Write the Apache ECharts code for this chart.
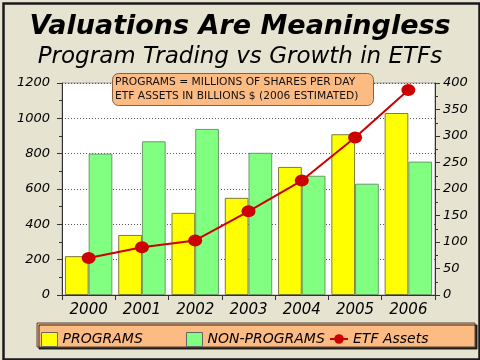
<!DOCTYPE html>
<html><head><meta charset="utf-8">
<script src="https://cdn.jsdelivr.net/npm/echarts@6/dist/echarts.min.js"></script>
<style>html,body{margin:0;padding:0;background:#E6E3D1;}#c{width:480px;height:360px;}</style>
</head><body><div id="c"></div>
<script>
const categories = ['2000','2001','2002','2003','2004','2005','2006'];
const programs = [220, 340, 465, 550, 725, 910, 1030];
const nonPrograms = [800, 870, 940, 805, 675, 630, 755];
const etfAssets = [70, 90, 103, 158, 216, 297, 387];
const leftTicks = {min:0, max:1200, interval:200};
const rightTicks = {min:0, max:400, interval:50};

const FONT = '"DejaVu Sans", Verdana, sans-serif';
const chart = echarts.init(document.getElementById('c'), null, {renderer:'canvas'});
chart.setOption({
  backgroundColor: '#E6E3D1',
  animation: false,
  textStyle: {fontFamily: FONT},
  title: [
    {text: 'Valuations Are Meaningless', left: 'center', top: 8,
     textStyle: {fontFamily: FONT, fontSize: 27, fontWeight: 'bold', fontStyle: 'italic', color: '#000'}},
    {text: 'Program Trading vs Growth in ETFs', left: 'center', top: 41,
     textStyle: {fontFamily: FONT, fontSize: 23, fontWeight: 'normal', fontStyle: 'italic', color: '#000'}}
  ],
  grid: {left: 62, right: 45, top: 83, bottom: 65, show: true, backgroundColor: '#fff', borderColor: '#999', borderWidth: 1},
  xAxis: {type: 'category', data: categories,
    axisLine: {lineStyle: {color: '#333'}},
    axisTick: {show: true, length: 5, lineStyle: {color: '#333'}},
    axisLabel: {fontFamily: FONT, fontSize: 15, fontStyle: 'italic', color: '#000', margin: 8}},
  yAxis: [
    {type: 'value', min: leftTicks.min, max: leftTicks.max, interval: leftTicks.interval,
     axisLine: {show: true, lineStyle: {color: '#333'}},
     axisTick: {show: true, length: 5, lineStyle: {color: '#333'}},
     minorTick: {show: true, splitNumber: 2, length: 3, lineStyle: {color: '#333'}},
     splitLine: {show: true, lineStyle: {color: '#555', type: [1, 2]}},
     axisLabel: {fontFamily: FONT, fontSize: 13, fontStyle: 'italic', color: '#000', margin: 12,
                 formatter: v => String(v)}},
    {type: 'value', min: rightTicks.min, max: rightTicks.max, interval: rightTicks.interval, position: 'right',
     axisLine: {show: true, lineStyle: {color: '#333'}},
     axisTick: {show: true, length: 5, lineStyle: {color: '#333'}},
     minorTick: {show: true, splitNumber: 2, length: 3, lineStyle: {color: '#333'}},
     splitLine: {show: false},
     axisLabel: {fontFamily: FONT, fontSize: 13, fontStyle: 'italic', color: '#000', margin: 8}}
  ],
  legend: [
    {data: [{name: 'PROGRAMS', icon: 'rect'}], left: 36, top: 327, itemWidth: 16, itemHeight: 14,
     itemStyle: {borderColor: '#666', borderWidth: 1},
     textStyle: {fontFamily: FONT, fontSize: 14, fontStyle: 'italic', color: '#000'}},
    {data: [{name: 'NON-PROGRAMS', icon: 'rect'}], left: 181, top: 327, itemWidth: 16, itemHeight: 14,
     itemStyle: {borderColor: '#666', borderWidth: 1},
     textStyle: {fontFamily: FONT, fontSize: 14, fontStyle: 'italic', color: '#000'}},
    {data: ['ETF Assets'], left: 324, top: 327, itemWidth: 18, itemHeight: 12,
     textStyle: {fontFamily: FONT, fontSize: 14, fontStyle: 'italic', color: '#000'}}
  ],
  series: [
    {name: 'PROGRAMS', type: 'bar', data: programs, yAxisIndex: 0, barGap: '0%', barCategoryGap: '11%',
     itemStyle: {color: '#FFFF00', borderColor: '#7a7a40', borderWidth: 1}},
    {name: 'NON-PROGRAMS', type: 'bar', data: nonPrograms, yAxisIndex: 0,
     itemStyle: {color: '#80FF80', borderColor: '#6a9a6a', borderWidth: 1}},
    {name: 'ETF Assets', type: 'line', data: etfAssets, yAxisIndex: 1, symbol: 'circle', symbolSize: [14, 12],
     lineStyle: {color: '#CC0000', width: 2}, itemStyle: {color: '#CC0000'}, z: 5}
  ],
  graphic: [
    {type: 'rect', left: 1, top: 1, shape: {width: 476, height: 356}, z: 100,
     style: {fill: 'none', stroke: '#1a1a1a', lineWidth: 2.5}},
    {type: 'rect', x: 37, y: 323, shape: {width: 438, height: 24}, z: -1,
     style: {fill: '#FDBB84', stroke: '#5a4030', lineWidth: 1, shadowColor: 'rgba(0,0,0,0.8)', shadowOffsetX: 2, shadowOffsetY: 2, shadowBlur: 0}},
    {type: 'rect', x: 112.5, y: 73.5, shape: {width: 261, height: 32, r: 6}, z: 50,
     style: {fill: '#FDBB84', stroke: '#8a6040', lineWidth: 1}},
    {type: 'text', x: 115, y: 75.5, z: 51,
     style: {text: 'PROGRAMS = MILLIONS OF SHARES PER DAY\nETF ASSETS IN BILLIONS $ (2006 ESTIMATED)', fontFamily: FONT, fontSize: 10.7, lineHeight: 14, fill: '#111'}}
  ]
});
</script></body></html>
